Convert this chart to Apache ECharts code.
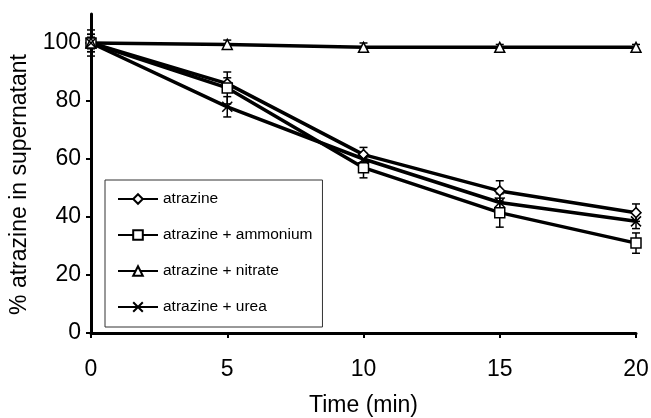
<!DOCTYPE html>
<html>
<head>
<meta charset="utf-8">
<script src="https://cdn.jsdelivr.net/npm/echarts@6/dist/echarts.min.js"></script>
<style>
  html, body { margin: 0; padding: 0; background: #fff; }
  #chart { width: 651px; height: 418px; }
</style>
</head>
<body>
<div id="chart"></div>
<script>
// time points (min)
const times = [0, 5, 10, 15, 20]
const yTicks = [0, 20, 40, 60, 80, 100]
const xTicks = [0, 5, 10, 15, 20]

// % atrazine in supernatant
const atrazine = [100, 86, 61.5, 49, 41.5]
const ammonium = [100, 84.5, 57, 41.5, 31]
const nitrate = [100, 99.5, 98.5, 98.5, 98.5]
const urea = [100, 78, 60, 45, 38.5]

// error bars (+/-)
const atrazineErr = [3, 2, 2.5, 3.5, 3]
const ammoniumErr = [4.5, 5.5, 3.5, 5, 3.5]
const nitrateErr = [2, 1.5, 1.5, 1, 1]
const ureaErr = [3, 3.5, 2, 3, 2.5]

const font = 'Liberation Sans, Arial, sans-serif'
const crossPath = 'path://M0,0L10,10M0,10L10,0'

function pairs(vals) {
  return times.map((t, i) => [t, vals[i]])
}

function errData(vals, errs) {
  return times.map((t, i) => [t, vals[i] - errs[i], vals[i] + errs[i]])
}

function renderErr(params, api) {
  const x = api.value(0)
  const lo = api.coord([x, api.value(1)])
  const hi = api.coord([x, api.value(2)])
  const w = 4
  const style = { stroke: '#000', lineWidth: 1.5 }
  return {
    type: 'group',
    children: [
      { type: 'line', shape: { x1: lo[0], y1: lo[1], x2: hi[0], y2: hi[1] }, style },
      { type: 'line', shape: { x1: hi[0] - w, y1: hi[1], x2: hi[0] + w, y2: hi[1] }, style },
      { type: 'line', shape: { x1: lo[0] - w, y1: lo[1], x2: lo[0] + w, y2: lo[1] }, style }
    ]
  }
}

function errSeries(vals, errs) {
  return {
    type: 'custom',
    renderItem: renderErr,
    data: errData(vals, errs),
    z: 3,
    silent: true
  }
}

function lineSeries(name, vals, symbol, size) {
  return {
    name: name,
    type: 'line',
    data: pairs(vals),
    symbol: symbol,
    symbolSize: size,
    showAllSymbol: true,
    z: 4,
    lineStyle: { color: '#000', width: 3.5 },
    itemStyle: { color: '#fff', borderColor: '#000', borderWidth: 1.5 },
    emphasis: { disabled: true },
    animation: false
  }
}

const chart = echarts.init(document.getElementById('chart'))
chart.setOption({
  backgroundColor: '#fff',
  animation: false,
  grid: { left: 91, right: 15, top: 14, bottom: 85, outerBoundsMode: 'none' },
  legend: {
    data: ['atrazine', 'atrazine + ammonium', 'atrazine + nitrate', 'atrazine + urea'],
    orient: 'vertical',
    left: 105,
    top: 180,
    padding: [11, 10, 12, 12],
    itemWidth: 40,
    itemHeight: 12,
    itemGap: 20,
    backgroundColor: '#fff',
    borderColor: '#333',
    borderWidth: 1,
    textStyle: { fontFamily: font, fontSize: 15.5, color: '#000' }
  },
  xAxis: {
    type: 'value',
    min: 0,
    max: 20,
    interval: 5,
    name: 'Time (min)',
    nameLocation: 'middle',
    nameGap: 61,
    nameTextStyle: { fontFamily: font, fontSize: 23, color: '#000' },
    axisLine: { lineStyle: { color: '#000', width: 3 } },
    axisTick: { customValues: xTicks, length: 5, lineStyle: { color: '#000', width: 2 } },
    axisLabel: { customValues: xTicks, margin: 25, fontFamily: font, fontSize: 23, color: '#000' },
    splitLine: { show: false }
  },
  yAxis: {
    type: 'value',
    min: 0,
    max: 110,
    interval: 20,
    name: '% atrazine in supernatant',
    nameLocation: 'middle',
    nameGap: 60,
    nameTextStyle: { fontFamily: font, fontSize: 23, color: '#000', padding: [0, 22, 0, 0] },
    axisLine: { show: true, lineStyle: { color: '#000', width: 3 } },
    axisTick: { show: true, customValues: yTicks, length: 5, lineStyle: { color: '#000', width: 2 } },
    axisLabel: { customValues: yTicks, margin: 10, fontFamily: font, fontSize: 23, color: '#000' },
    splitLine: { show: false }
  },
  series: [
    errSeries(atrazine, atrazineErr),
    errSeries(ammonium, ammoniumErr),
    errSeries(nitrate, nitrateErr),
    errSeries(urea, ureaErr),
    lineSeries('atrazine', atrazine, 'diamond', 10),
    lineSeries('atrazine + ammonium', ammonium, 'rect', 10),
    lineSeries('atrazine + nitrate', nitrate, 'triangle', 10),
    lineSeries('atrazine + urea', urea, crossPath, 10)
  ]
})
</script>
</body>
</html>
